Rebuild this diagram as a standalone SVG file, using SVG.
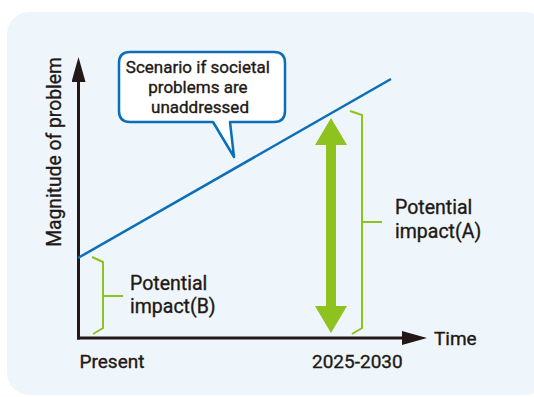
<svg xmlns="http://www.w3.org/2000/svg" width="534" height="397" viewBox="0 0 534 397">
  <style>
    .txt { font-family: Roboto, "Liberation Sans", sans-serif; fill: #231815; stroke: #231815; stroke-width: 0.35; }
    .axis { stroke: #231815; stroke-width: 3; fill: none; }
    .brace { stroke: #8dc21f; stroke-width: 2; fill: none; stroke-linejoin: miter; }
  </style>
  <defs>
    <marker id="axisHead" viewBox="0 0 25 14" refX="0" refY="7" markerUnits="userSpaceOnUse" markerWidth="25" markerHeight="14" orient="auto">
      <path d="M0,0 L25,7 L0,14 Z" fill="#231815"/>
    </marker>
  </defs>

  <!-- panel -->
  <rect x="7" y="12" width="540" height="383" rx="22" ry="22" fill="#eef6fb"/>

  <!-- axes -->
  <g id="axes">
    <line class="axis" x1="78.5" y1="339.5" x2="78.5" y2="82" marker-end="url(#axisHead)"/>
    <line class="axis" x1="77" y1="338" x2="402" y2="338" marker-end="url(#axisHead)"/>
    <text class="txt" font-size="19.3" transform="translate(60.5 152) rotate(-90)" text-anchor="middle">Magnitude of problem</text>
    <text class="txt" x="434" y="345" font-size="19">Time</text>
    <text class="txt" x="79.5" y="368" font-size="19">Present</text>
    <text class="txt" x="312" y="368" font-size="19">2025-2030</text>
  </g>

  <!-- connectors -->
  <g id="connectors">
    <line id="scenario-line" x1="78" y1="258" x2="391" y2="79" stroke="#0a6eb9" stroke-width="2.5"/>
    <path id="impact-arrow" d="M331,118 L347,145 L336,145 L336,306 L347,306 L331,333 L315,306 L326,306 L326,145 L315,145 Z" fill="#8dc21f"/>
  </g>

  <!-- scenario callout -->
  <g id="callout">
    <path d="M130,52 H274 Q285,52 285,63 V111 Q285,122 274,122 H230 L234,157 L213,122 H130 Q119,122 119,111 V63 Q119,52 130,52 Z" fill="#ffffff" stroke="#0a6eb9" stroke-width="2.5" stroke-linejoin="round"/>
    <text class="txt" font-size="17" text-anchor="middle">
      <tspan x="200" y="73">Scenario if societal</tspan>
      <tspan x="200" y="93">problems are</tspan>
      <tspan x="200" y="113">unaddressed</tspan>
    </text>
  </g>

  <!-- potential impact A -->
  <g id="impact-a">
    <path class="brace" d="M350,111 L362,115 V328 L352,334"/>
    <line class="brace" x1="362" y1="222" x2="382" y2="222"/>
    <text class="txt" font-size="19.5">
      <tspan x="395" y="214">Potential</tspan>
      <tspan x="395" y="238">impact(A)</tspan>
    </text>
  </g>

  <!-- potential impact B -->
  <g id="impact-b">
    <path class="brace" d="M92,257 L103,262 V328 L93,334"/>
    <line class="brace" x1="103" y1="296" x2="123" y2="296"/>
    <text class="txt" font-size="19.5">
      <tspan x="130" y="290">Potential</tspan>
      <tspan x="130" y="313">impact(B)</tspan>
    </text>
  </g>
</svg>
